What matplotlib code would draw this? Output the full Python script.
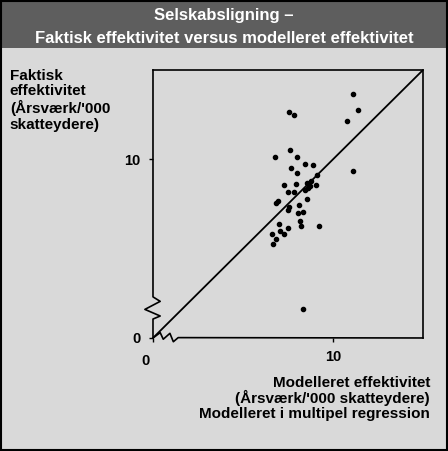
import numpy as np
import matplotlib.pyplot as plt
from matplotlib.patches import Rectangle
from matplotlib.transforms import offset_copy

plt.rcParams['font.family'] = ['Liberation Sans', 'DejaVu Sans']
plt.rcParams['font.weight'] = 'bold'

# Data (Årsværk/'000 skatteydere)
modelleret = [11.13, 11.37, 10.76, 7.56, 7.85, 11.09, 7.61, 6.79, 8.02, 7.68,
              8.43, 8.87, 7.98, 9.11, 8.78, 7.28, 7.93, 8.54, 9.04, 8.61,
              8.72, 8.44, 7.48, 7.82, 8.54, 6.93, 6.82, 7.54, 8.09, 8.35,
              7.48, 8.06, 6.98, 7.48, 8.15, 8.21, 9.21, 6.59, 7.07, 7.28,
              6.82, 6.65, 8.35]
faktisk = [13.64, 12.76, 12.14, 12.63, 12.46, 9.36, 10.50, 10.15, 10.13, 9.53,
           9.72, 9.68, 9.25, 9.14, 8.80, 8.55, 8.63, 8.66, 8.56, 8.38,
           8.51, 8.28, 8.15, 8.15, 7.76, 7.67, 7.57, 7.35, 7.46, 7.07,
           7.15, 6.98, 6.38, 6.17, 6.56, 6.27, 6.28, 5.82, 6.00, 5.82,
           5.54, 5.24, 1.61]
ticks = [0, 10]
tick_labels = ['0', '10']
akse_max = 15

bg = '#d9d9d9'
fig = plt.figure(figsize=(4.48, 4.51), dpi=100, facecolor=bg)

# header band
fig.patches.append(Rectangle((0, 0.893), 1, 0.107, transform=fig.transFigure,
                             facecolor='#5e5e5e', edgecolor='none', zorder=0))
fig.text(0.5, 0.966, 'Selskabsligning \u2013', color='white', ha='center', va='center',
         fontsize=12, fontweight='bold')
fig.text(0.5, 0.915, 'Faktisk effektivitet versus modelleret effektivitet', color='white',
         ha='center', va='center', fontsize=12, fontweight='bold')
# outer frame
fig.patches.append(Rectangle((0.002, 0.002), 0.996, 0.996, transform=fig.transFigure,
                             facecolor='none', edgecolor='black', linewidth=1.5, zorder=5))

ax = fig.add_axes([0.3415, 0.2506, 0.6027, 0.5942])
ax.set_facecolor(bg)
ax.set_xlim(0, akse_max)
ax.set_ylim(0, akse_max)

# diagonal line y = x
ax.plot([0, akse_max], [0, akse_max], color='black', linewidth=1.3)
ax.scatter(modelleret, faktisk, s=9, color='black', zorder=3)

# axes drawn by hand with break marks
for side in ['left', 'bottom']:
    ax.spines[side].set_visible(False)
ax.spines['top'].set_linewidth(1.2)
ax.spines['right'].set_linewidth(1.2)

ax.plot([0, 0.4, 0.57, 0.94, 1.13, 1.4, akse_max], [0, 0.3, -0.07, 0.26, -0.21, 0.02, 0],
        color='black', linewidth=1.2, clip_on=False)
ax.plot([0, 0, 0.4, -0.45, 0.4, 0, 0], [0, 1.06, 1.23, 1.6, 2.05, 2.3, akse_max],
        color='black', linewidth=1.2, clip_on=False)

ax.set_xticks(ticks)
ax.set_yticks(ticks)
ax.set_xticklabels(tick_labels, fontsize=10.5, fontweight='bold')
ax.set_yticklabels(tick_labels, fontsize=10.5, fontweight='bold')
ax.tick_params(direction='out', length=3, width=1, pad=6)
# the x "0" sits a little left of the axis in the original
xl0 = ax.get_xticklabels()[0]
xl0.set_transform(offset_copy(xl0.get_transform(), fig=fig, x=-7, y=-4, units='dots'))

fig.text(0.022, 0.848, "Faktisk\neffektivitet\n(Årsværk/'000\nskatteydere)", ha='left', va='top',
         fontsize=11, fontweight='bold', linespacing=1.15)
fig.text(0.96, 0.167, "Modelleret effektivitet\n(Årsværk/'000 skatteydere)\nModelleret i multipel regression",
         ha='right', va='top', fontsize=11, fontweight='bold', linespacing=1.05)

fig.savefig('out.png', dpi=100, facecolor=bg)
